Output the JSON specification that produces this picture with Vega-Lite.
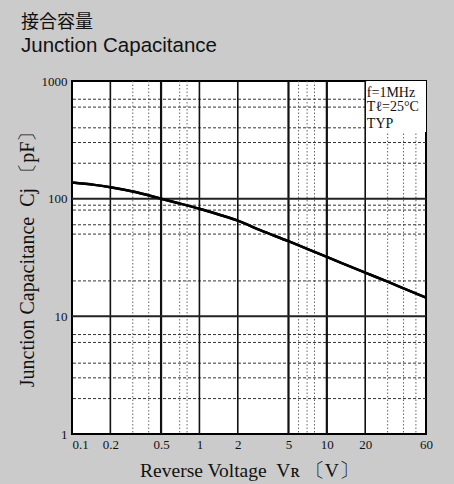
{
  "$schema": "https://vega.github.io/schema/vega-lite/v6.json",
  "width": 354,
  "height": 353,
  "autosize": {"type": "none"},
  "padding": {"left": 72, "top": 81, "right": 28, "bottom": 50},
  "background": "#cbcbcb",
  "title": {
    "text": "接合容量",
    "subtitle": "Junction Capacitance",
    "anchor": "start",
    "frame": "group",
    "dx": -51,
    "offset": 19,
    "font": "Noto Sans CJK JP",
    "fontSize": 18,
    "fontWeight": "normal",
    "color": "#111",
    "subtitleFont": "Liberation Sans",
    "subtitleFontSize": 20.5,
    "subtitleColor": "#111",
    "subtitlePadding": 4
  },
  "config": {
    "view": {"fill": "white", "stroke": "#000", "strokeWidth": 2},
    "axis": {
      "labelFont": "Liberation Serif",
      "labelFontSize": 13,
      "labelColor": "#111",
      "titleFont": "Liberation Serif",
      "titleFontSize": 19.5,
      "titleFontWeight": "normal",
      "titleColor": "#111",
      "ticks": false,
      "domain": false,
      "grid": false
    }
  },
  "datasets": {
    "vheavy": [{"x": 0.5}, {"x": 5}, {"x": 10}],
    "vmajor": [{"x": 0.2}, {"x": 1}, {"x": 2}, {"x": 20}],
    "vminor": [{"x": 0.3}, {"x": 0.4}, {"x": 0.7}, {"x": 0.8}, {"x": 6}, {"x": 7}, {"x": 8}, {"x": 30}, {"x": 40}, {"x": 50}],
    "hmajor": [{"y": 10}, {"y": 100}],
    "hminor": [{"y": 2}, {"y": 3}, {"y": 4}, {"y": 6}, {"y": 7}, {"y": 20}, {"y": 50}, {"y": 60}, {"y": 80}, {"y": 88}, {"y": 200}, {"y": 300}, {"y": 400}, {"y": 600}, {"y": 700}],
    "curve": [
      {"x": 0.1, "y": 137}, {"x": 0.15, "y": 131}, {"x": 0.2, "y": 125}, {"x": 0.3, "y": 115},
      {"x": 0.5, "y": 100}, {"x": 0.7, "y": 91}, {"x": 1, "y": 82}, {"x": 1.5, "y": 72},
      {"x": 2, "y": 65}, {"x": 3, "y": 54}, {"x": 5, "y": 43.5}, {"x": 7, "y": 37.5},
      {"x": 10, "y": 32}, {"x": 20, "y": 23.5}, {"x": 30, "y": 19.7}, {"x": 40, "y": 17.3},
      {"x": 60, "y": 14.4}
    ],
    "notes": [
      {"x": 20.6, "y": 791, "text": "f=1MHz"},
      {"x": 20.6, "y": 605, "text": "Tℓ=25°C"},
      {"x": 20.6, "y": 431, "text": "TYP"}
    ]
  },
  "layer": [
    {
      "data": {"name": "curve"},
      "mark": {"type": "line", "color": "#000", "strokeWidth": 2.5, "interpolate": "monotone", "clip": true},
      "encoding": {
        "x": {
          "field": "x", "type": "quantitative",
          "scale": {"type": "log", "domain": [0.1, 60], "nice": false},
          "axis": {
            "values": [0.1, 0.2, 0.5, 1, 2, 5, 10, 20, 60],
            "format": "~g",
            "labelPadding": 4,
            "labelFlush": false,
            "labelAlign": {"expr": "datum.value < 0.15 ? 'left' : 'center'"},
            "title": "Reverse Voltage\u00a0\u00a0Vʀ\u00a0\u3014V\u3015",
            "titlePadding": 10
          }
        },
        "y": {
          "field": "y", "type": "quantitative",
          "scale": {"type": "log", "domain": [1, 1000], "nice": false},
          "axis": {
            "values": [1, 10, 100, 1000],
            "format": "d",
            "labelPadding": 5,
            "labelFlush": false,
            "title": "Junction Capacitance\u00a0\u00a0Cj\u00a0\u3014pF\u3015",
            "titleFontSize": 20,
            "titleY": 173,
            "titlePadding": 4
          }
        }
      }
    },
    {
      "data": {"name": "vminor"},
      "mark": {"type": "rule", "color": "#666", "strokeWidth": 1, "strokeDash": [1.5, 2]},
      "encoding": {"x": {"field": "x", "type": "quantitative"}}
    },
    {
      "data": {"name": "hminor"},
      "mark": {"type": "rule", "color": "#333", "strokeWidth": 1, "strokeDash": [3, 2]},
      "encoding": {"y": {"field": "y", "type": "quantitative"}}
    },
    {
      "data": {"name": "notes"},
      "mark": {"type": "rect", "color": "white"},
      "encoding": {
        "x": {"datum": 20.5},
        "x2": {"datum": 60},
        "y": {"datum": 370},
        "y2": {"datum": 1000}
      }
    },
    {
      "data": {"name": "vmajor"},
      "mark": {"type": "rule", "color": "#111", "strokeWidth": 1.6},
      "encoding": {"x": {"field": "x", "type": "quantitative"}}
    },
    {
      "data": {"name": "vheavy"},
      "mark": {"type": "rule", "color": "#111", "strokeWidth": 2.2},
      "encoding": {"x": {"field": "x", "type": "quantitative"}}
    },
    {
      "data": {"name": "hmajor"},
      "mark": {"type": "rule", "color": "#222", "strokeWidth": 2},
      "encoding": {"y": {"field": "y", "type": "quantitative"}}
    },
    {
      "data": {"name": "curve"},
      "mark": {"type": "line", "color": "#000", "strokeWidth": 2.5, "interpolate": "monotone", "clip": true},
      "encoding": {
        "x": {"field": "x", "type": "quantitative"},
        "y": {"field": "y", "type": "quantitative"}
      }
    },
    {
      "data": {"name": "notes"},
      "mark": {"type": "text", "align": "left", "baseline": "middle", "font": "Liberation Serif", "fontSize": 14, "color": "#111"},
      "encoding": {
        "x": {"field": "x", "type": "quantitative"},
        "y": {"field": "y", "type": "quantitative"},
        "text": {"field": "text"}
      }
    }
  ]
}
